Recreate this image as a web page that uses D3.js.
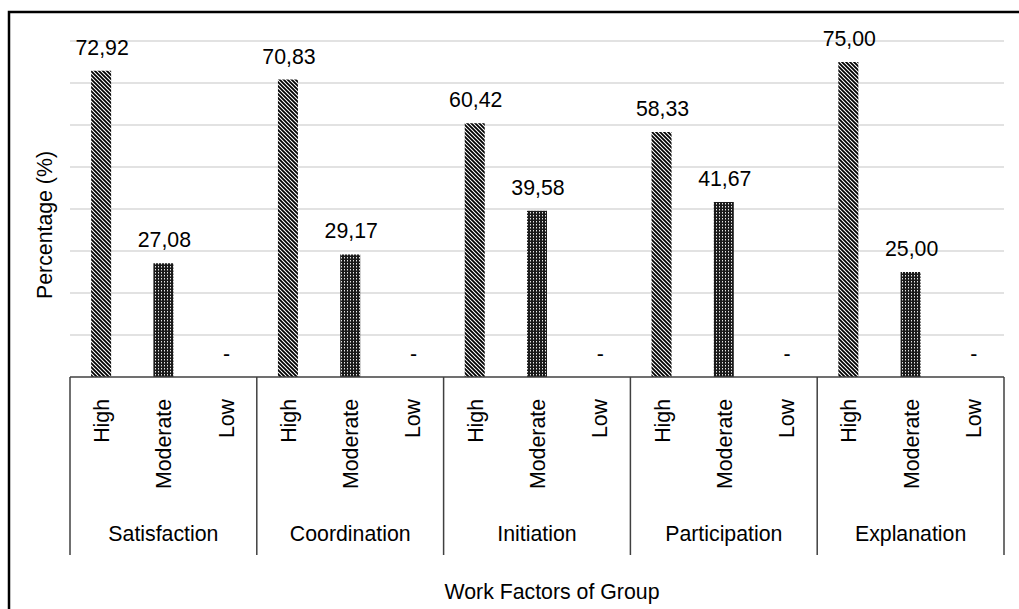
<!DOCTYPE html>
<html><head><meta charset="utf-8">
<script src="https://cdn.jsdelivr.net/npm/d3@7"></script>
<style>body{margin:0;background:#fff}svg{display:block;font-family:"Liberation Sans",Arial,sans-serif}</style>
</head><body>
<svg id="c" width="1019" height="609"></svg>
<script>
const groups = ["Satisfaction","Coordination","Initiation","Participation","Explanation"];
const levels = ["High","Moderate","Low"];
const high = [72.92, 70.83, 60.42, 58.33, 75.00];
const moderate = [27.08, 29.17, 39.58, 41.67, 25.00];
const low = [null, null, null, null, null];
const yTicks = [0,10,20,30,40,50,60,70,80];

const svg = d3.select("#c");
const L = 70, R = 1004, T = 41, B = 377;
const FS = 21.3;
const y = d3.scaleLinear().domain([0,80]).range([B,T]);
const xg = d3.scaleBand().domain(groups).range([L,R]).padding(0);
const xl = d3.scaleBand().domain(levels).range([0,xg.bandwidth()]).padding(0);

const defs = svg.append("defs");
const p1 = defs.append("pattern").attr("id","diag").attr("patternUnits","userSpaceOnUse")
  .attr("width",4).attr("height",4);
p1.append("rect").attr("width",4).attr("height",4).attr("fill","#fff");
p1.append("path").attr("d","M-1,-1 L5,5 M-1,3 L1,5 M3,-1 L5,1").attr("stroke","#000").attr("stroke-width",1.8);
const p2 = defs.append("pattern").attr("id","dots").attr("patternUnits","userSpaceOnUse")
  .attr("width",3).attr("height",3);
p2.append("rect").attr("width",3).attr("height",3).attr("fill","#1a1a1a");
p2.append("rect").attr("x",2).attr("y",2).attr("width",1).attr("height",1).attr("fill","#e8e8e8");
p2.append("rect").attr("x",2).attr("y",0).attr("width",1).attr("height",1).attr("fill","#777");

// outer frame
svg.append("path").attr("d","M9,609 L9,12 L1019,12").attr("fill","none").attr("stroke","#000").attr("stroke-width",2.5);

// gridlines
svg.append("g").selectAll("line").data(yTicks.filter(d=>d>0)).join("line")
  .attr("x1",L).attr("x2",R).attr("y1",d=>y(d)).attr("y2",d=>y(d))
  .attr("stroke","#d9d9d9").attr("stroke-width",1.3);

const series = [high, moderate, low];
const fills = ["url(#diag)","url(#dots)",null];
const data = [];
groups.forEach((g,i)=>levels.forEach((l,j)=>data.push({g,l,v:series[j][i],f:fills[j]})));

const bw = 20;
const cx = d => xg(d.g) + xl(d.l) + xl.bandwidth()/2;
svg.append("g").selectAll("rect").data(data.filter(d=>d.v!=null)).join("rect")
  .attr("x",d=>cx(d)-bw/2).attr("width",bw)
  .attr("y",d=>y(d.v)).attr("height",d=>y(0)-y(d.v))
  .attr("fill",d=>d.f);

svg.append("g").selectAll("text").data(data).join("text")
  .attr("x",d=>cx(d)+1).attr("y",d=>y(d.v||0)-16)
  .attr("text-anchor","middle").attr("font-size",FS).attr("fill","#000")
  .text(d=>d.v==null?"-":d.v.toFixed(2).replace(".",","));

// baseline and separators
svg.append("line").attr("x1",L).attr("x2",R).attr("y1",B).attr("y2",B).attr("stroke","#404040").attr("stroke-width",1.5);
const seps = groups.map(g=>xg(g)).concat([R]);
svg.append("g").selectAll("line").data(seps).join("line")
  .attr("x1",d=>d).attr("x2",d=>d).attr("y1",B).attr("y2",555)
  .attr("stroke","#404040").attr("stroke-width",1.5);

// level labels
svg.append("g").selectAll("text").data(data).join("text")
  .attr("transform",d=>`translate(${cx(d)+8},399) rotate(-90)`)
  .attr("text-anchor","end").attr("font-size",FS).attr("fill","#000")
  .text(d=>d.l);

// group labels
svg.append("g").selectAll("text").data(groups).join("text")
  .attr("x",g=>xg(g)+xg.bandwidth()/2).attr("y",541)
  .attr("text-anchor","middle").attr("font-size",FS).attr("fill","#000").text(g=>g);

svg.append("text").attr("x",552).attr("y",599).attr("text-anchor","middle")
  .attr("font-size",FS).attr("fill","#000").text("Work Factors of Group");
svg.append("text").attr("transform","translate(52,225) rotate(-90)").attr("text-anchor","middle")
  .attr("font-size",FS).attr("fill","#000").text("Percentage (%)");
</script>
</body></html>
